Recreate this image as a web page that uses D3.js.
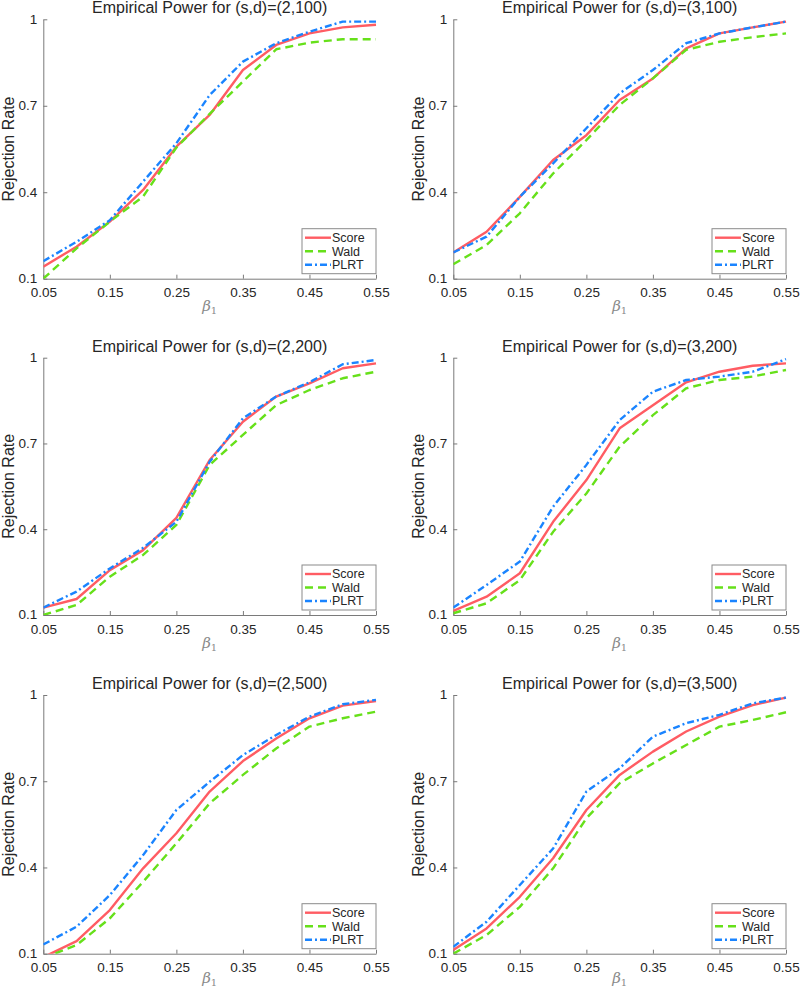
<!DOCTYPE html>
<html>
<head>
<meta charset="utf-8">
<script src="https://cdn.jsdelivr.net/npm/d3@7"></script>
<style>
  body { margin: 0; background: #fff; }
  svg { display: block; }
  text { font-family: "Liberation Sans", Arial, Helvetica, sans-serif; }
</style>
</head>
<body>
<svg id="chart" width="800" height="991"></svg>
<script>
// ---- data ----
const beta = [0.05, 0.10, 0.15, 0.20, 0.25, 0.30, 0.35, 0.40, 0.45, 0.50, 0.55];
const xTicks = [0.05, 0.15, 0.25, 0.35, 0.45, 0.55];
const yTicks = [0.1, 0.4, 0.7, 1];
const seriesNames = ["Score", "Wald", "PLRT"];
const panelTitles = [
  "Empirical Power for (s,d)=(2,100)", "Empirical Power for (s,d)=(3,100)",
  "Empirical Power for (s,d)=(2,200)", "Empirical Power for (s,d)=(3,200)",
  "Empirical Power for (s,d)=(2,500)", "Empirical Power for (s,d)=(3,500)"
];
const score_2_100 = [0.142, 0.211, 0.298, 0.408, 0.558, 0.668, 0.824, 0.911, 0.951, 0.972, 0.981];
const wald_2_100  = [0.100, 0.205, 0.298, 0.385, 0.555, 0.672, 0.784, 0.896, 0.919, 0.931, 0.931];
const plrt_2_100  = [0.161, 0.228, 0.303, 0.437, 0.570, 0.737, 0.853, 0.917, 0.957, 0.992, 0.992];

const score_3_100 = [0.191, 0.263, 0.384, 0.512, 0.598, 0.720, 0.795, 0.899, 0.951, 0.972, 0.992];
const wald_3_100  = [0.150, 0.217, 0.327, 0.465, 0.581, 0.703, 0.795, 0.894, 0.922, 0.938, 0.951];
const plrt_3_100  = [0.191, 0.246, 0.384, 0.500, 0.622, 0.743, 0.824, 0.917, 0.951, 0.972, 0.992];

const score_2_200 = [0.126, 0.156, 0.257, 0.327, 0.440, 0.642, 0.776, 0.864, 0.910, 0.963, 0.980];
const wald_2_200  = [0.100, 0.135, 0.234, 0.310, 0.415, 0.625, 0.730, 0.834, 0.887, 0.928, 0.951];
const plrt_2_200  = [0.126, 0.182, 0.263, 0.335, 0.426, 0.636, 0.788, 0.864, 0.914, 0.977, 0.992];

const score_3_200 = [0.114, 0.164, 0.246, 0.426, 0.572, 0.753, 0.834, 0.914, 0.951, 0.972, 0.980];
const wald_3_200  = [0.106, 0.141, 0.222, 0.391, 0.525, 0.689, 0.799, 0.893, 0.922, 0.934, 0.957];
const plrt_3_200  = [0.126, 0.205, 0.287, 0.479, 0.625, 0.782, 0.881, 0.922, 0.934, 0.951, 0.995];

const score_2_500 = [0.088, 0.144, 0.252, 0.397, 0.519, 0.664, 0.770, 0.849, 0.919, 0.963, 0.979];
const wald_2_500  = [0.085, 0.130, 0.223, 0.350, 0.484, 0.623, 0.722, 0.814, 0.890, 0.919, 0.942];
const plrt_2_500  = [0.132, 0.194, 0.304, 0.443, 0.600, 0.698, 0.791, 0.861, 0.925, 0.968, 0.983];

const score_3_500 = [0.113, 0.188, 0.298, 0.432, 0.600, 0.722, 0.803, 0.873, 0.925, 0.965, 0.991];
const wald_3_500  = [0.100, 0.165, 0.263, 0.397, 0.571, 0.693, 0.762, 0.826, 0.890, 0.913, 0.940];
const plrt_3_500  = [0.124, 0.211, 0.339, 0.466, 0.664, 0.745, 0.855, 0.902, 0.931, 0.971, 0.991];

const panelData = [
  [score_2_100, wald_2_100, plrt_2_100], [score_3_100, wald_3_100, plrt_3_100],
  [score_2_200, wald_2_200, plrt_2_200], [score_3_200, wald_3_200, plrt_3_200],
  [score_2_500, wald_2_500, plrt_2_500], [score_3_500, wald_3_500, plrt_3_500]
];

// ---- styles ----
const colors = ["#ff5c63", "#66e01a", "#1a84ff"];
const dashes = [null, "8,5", "7,3,2,3"];
const colLeft = [43.3, 453.3], colRight = [376, 786];
const rowTop = [19.3, 357.7, 695], rowBottom = [278.7, 615, 953.7];
const betaBaseline = [311, 648, 983];
const axisColor = "#7a7a7a", textColor = "#262626";

const svg = d3.select("#chart");

panelData.forEach((series, i) => {
  const col = i % 2, row = Math.floor(i / 2);
  const x = d3.scaleLinear().domain([0.05, 0.55]).range([colLeft[col], colRight[col]]);
  const y = d3.scaleLinear().domain([0.1, 1]).range([rowBottom[row], rowTop[row]]);
  const g = svg.append("g");

  const clipId = "clip" + i;
  g.append("clipPath").attr("id", clipId).append("rect")
    .attr("x", x.range()[0]).attr("y", y.range()[1] - 2)
    .attr("width", x.range()[1] - x.range()[0] + 2)
    .attr("height", y.range()[0] - y.range()[1] + 2);

  // axes
  const xAxis = g.append("g").attr("transform", `translate(0,${y.range()[0]})`)
    .call(d3.axisBottom(x).tickValues(xTicks).tickFormat(d3.format(".2f")).tickSizeInner(-4).tickSizeOuter(0).tickPadding(9));
  const yAxis = g.append("g").attr("transform", `translate(${x.range()[0]},0)`)
    .call(d3.axisLeft(y).tickValues(yTicks).tickFormat(d => d === 1 ? "1" : d3.format(".1f")(d)).tickSizeInner(-4).tickSizeOuter(0).tickPadding(6));
  [xAxis, yAxis].forEach(a => {
    a.select(".domain").attr("stroke", axisColor).attr("stroke-width", 1);
    a.selectAll(".tick line").attr("stroke", axisColor);
    a.selectAll(".tick text").attr("fill", textColor).style("font-size", "13.5px");
  });
  yAxis.selectAll(".tick text").attr("dy", "0.28em");

  // lines
  const line = d3.line().x((d, k) => x(beta[k])).y(d => y(d));
  series.forEach((vals, s) => {
    g.append("path").datum(vals)
      .attr("clip-path", `url(#${clipId})`)
      .attr("d", line)
      .attr("fill", "none")
      .attr("stroke", colors[s])
      .attr("stroke-width", 2.4)
      .attr("stroke-dasharray", dashes[s])
      .attr("stroke-linejoin", "round");
  });

  // title
  const cx = (x.range()[0] + x.range()[1]) / 2;
  g.append("text").attr("x", cx).attr("y", y.range()[1] - 6)
    .attr("text-anchor", "middle").attr("fill", textColor)
    .style("font-size", "16px").text(panelTitles[i]);

  // y label
  g.append("text")
    .attr("transform", `translate(${x.range()[0] - 29.3},${(y.range()[0] + y.range()[1]) / 2}) rotate(-90)`)
    .attr("text-anchor", "middle").attr("fill", textColor)
    .style("font-size", "16px").text("Rejection Rate");

  // x label beta_1
  const xl = g.append("text").attr("x", cx).attr("y", betaBaseline[row])
    .attr("text-anchor", "middle").attr("fill", "#8a8a8a")
    .style("font-family", "'DejaVu Serif', 'Liberation Serif', serif").style("font-size", "15px");
  xl.append("tspan").style("font-style", "italic").text("β");
  xl.append("tspan").attr("dy", 3).style("font-size", "10px").text("1");

  // legend
  const lw = 74, lh = 45;
  const lx = x.range()[1] - lw, ly = y.range()[0] - 5 - lh;
  const lg = g.append("g").attr("transform", `translate(${lx},${ly})`);
  lg.append("rect").attr("width", lw).attr("height", lh)
    .attr("fill", "#fff").attr("stroke", "#8a8a8a").attr("stroke-width", 1);
  seriesNames.forEach((name, s) => {
    const yy = 9 + s * 13.5;
    lg.append("line").attr("x1", 3).attr("x2", 29).attr("y1", yy).attr("y2", yy)
      .attr("stroke", colors[s]).attr("stroke-width", 2.4).attr("stroke-dasharray", dashes[s]);
    lg.append("text").attr("x", 30).attr("y", yy).attr("dy", "0.35em")
      .attr("fill", textColor).style("font-size", "12.5px").text(name);
  });
});
</script>
</body>
</html>
